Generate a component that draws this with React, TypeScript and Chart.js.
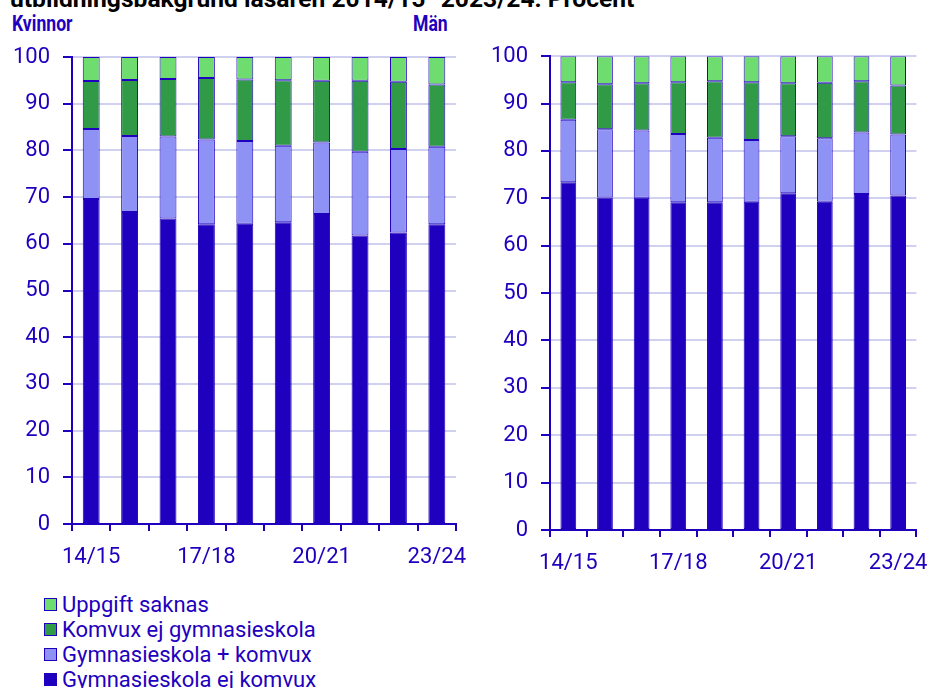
import React, { useEffect, useRef } from "react";
import { Chart, registerables } from "chart.js";

Chart.register(...registerables);

const categories = ["14/15", "15/16", "16/17", "17/18", "18/19", "19/20", "20/21", "21/22", "22/23", "23/24"];
const shownTicks = ["14/15", "17/18", "20/21", "23/24"];

// Kvinnor (women)
const womenGymEjKomvux = [69.6, 66.8, 65.4, 64.2, 64.3, 64.6, 66.4, 61.8, 62.4, 64.2];
const womenGymKomvux = [15.0, 16.3, 17.6, 18.15, 17.7, 16.4, 15.3, 17.9, 17.9, 16.6];
const womenKomvuxEjGym = [10.25, 12.0, 12.3, 13.15, 13.2, 14.0, 13.2, 15.2, 14.4, 13.3];
const womenSaknas = [5.15, 4.9, 4.7, 4.5, 4.8, 5.0, 5.1, 5.1, 5.3, 5.9];

// Män (men)
const menGymEjKomvux = [73.4, 70.2, 70.1, 69.2, 69.2, 69.3, 71.1, 69.3, 70.9, 70.6];
const menGymKomvux = [13.2, 14.4, 14.2, 14.4, 13.6, 13.0, 12.0, 13.4, 13.0, 12.9];
const menKomvuxEjGym = [7.9, 9.5, 10.0, 10.9, 11.9, 12.2, 11.2, 11.7, 10.8, 10.3];
const menSaknas = [5.5, 5.9, 5.7, 5.5, 5.3, 5.5, 5.7, 5.6, 5.3, 6.2];

const seriesLabels = ["Gymnasieskola ej komvux", "Gymnasieskola + komvux", "Komvux ej gymnasieskola", "Uppgift saknas"];
const seriesColors = ["#1e00be", "#8f92f5", "#309a46", "#6edc6e"];
const yTicks = [0, 10, 20, 30, 40, 50, 60, 70, 80, 90, 100];

const BLUE = "#1e00be";
const GRID = "rgb(208,208,240)";
const FONT = "Roboto";
const TICK_SIZE = 22;

function makeConfig(data: number[][], yWidth: number, xHeight: number, padding: any, barPct: number) {
  return {
    type: "bar" as const,
    data: {
      labels: categories,
      datasets: data.map((d, i) => ({
        label: seriesLabels[i],
        data: d,
        backgroundColor: seriesColors[i],
        borderColor: BLUE,
        borderWidth: 1,
        borderSkipped: false,
        categoryPercentage: 1,
        barPercentage: barPct,
      })),
    },
    options: {
      responsive: false,
      animation: false as const,
      layout: { padding },
      plugins: { legend: { display: false }, tooltip: { enabled: false }, title: { display: false } },
      scales: {
        x: {
          stacked: true,
          offset: true,
          grid: {
            offset: true,
            drawOnChartArea: true,
            drawTicks: true,
            tickLength: 7,
            tickColor: BLUE,
            tickWidth: 2,
            lineWidth: 2,
            color: (ctx: any) => (ctx.index === categories.length ? GRID : "rgba(0,0,0,0)"),
          },
          border: { display: true, color: BLUE, width: 2 },
          ticks: {
            autoSkip: false,
            maxRotation: 0,
            padding: 13,
            color: BLUE,
            font: { family: FONT, size: TICK_SIZE },
            callback: function (this: any, v: any, i: number) {
              const l = categories[i];
              return shownTicks.includes(l) ? l : "";
            },
          },
          afterFit: (s: any) => {
            s.height = xHeight;
          },
        },
        y: {
          stacked: true,
          min: 0,
          max: 100,
          afterBuildTicks: (s: any) => {
            s.ticks = yTicks.map((v) => ({ value: v }));
          },
          grid: {
            color: GRID,
            lineWidth: 2,
            tickColor: BLUE,
            tickWidth: 2,
            tickLength: 9,
          },
          border: { display: true, color: BLUE, width: 2 },
          ticks: {
            padding: 13,
            color: BLUE,
            font: { family: FONT, size: TICK_SIZE },
          },
          afterFit: (s: any) => {
            s.width = yWidth;
          },
        },
      },
    },
  };
}

function BarChart(props: { data: number[][]; width: number; height: number; yWidth: number; xHeight: number; padding: any; barPct: number; style: any }) {
  const ref = useRef<HTMLCanvasElement>(null);
  useEffect(() => {
    const c = new Chart(ref.current as HTMLCanvasElement, makeConfig(props.data, props.yWidth, props.xHeight, props.padding, props.barPct) as any);
    return () => c.destroy();
  }, []);
  return (
    <canvas ref={ref} width={props.width} height={props.height} style={{ position: "absolute", width: props.width, height: props.height, ...props.style }} />
  );
}

export default function App() {
  const subtitle: any = {
    position: "absolute",
    top: 13,
    fontFamily: FONT,
    fontWeight: 700,
    fontSize: 22,
    lineHeight: "22px",
    color: BLUE,
    transform: "scaleX(0.8)",
    transformOrigin: "left top",
    whiteSpace: "nowrap",
  };
  const legendOrder = [3, 2, 1, 0];
  return (
    <div style={{ position: "absolute", left: 0, top: 0, width: 941, height: 688, overflow: "hidden", background: "#fff" }}>
      <div
        style={{
          position: "absolute",
          left: 10,
          top: -14,
          fontFamily: FONT,
          fontWeight: 700,
          fontSize: 24.6,
          lineHeight: "25px",
          color: "#000",
          whiteSpace: "nowrap",
        }}
      >
        utbildningsbakgrund läsåren 2014/15–2023/24. Procent
      </div>
      <div style={{ ...subtitle, left: 12 }}>Kvinnor</div>
      <div style={{ ...subtitle, left: 413 }}>Män</div>
      <BarChart
        data={[womenGymEjKomvux, womenGymKomvux, womenKomvuxEjGym, womenSaknas]}
        width={480}
        height={540}
        yWidth={72}
        xHeight={46}
        padding={{ top: 27, right: 18, left: 0, bottom: 0 }}
        barPct={0.44}
        style={{ left: 0, top: 30 }}
      />
      <BarChart
        data={[menGymEjKomvux, menGymKomvux, menKomvuxEjGym, menSaknas]}
        width={461}
        height={540}
        yWidth={70}
        xHeight={40}
        padding={{ top: 23, right: 12, left: 0, bottom: 0 }}
        barPct={0.43}
        style={{ left: 480, top: 30 }}
      />
      {legendOrder.map((si, r) => (
        <div
          key={si}
          style={{
            position: "absolute",
            left: 44,
            top: 592 + r * 25,
            height: 25,
            lineHeight: "25px",
            fontFamily: FONT,
            fontSize: 22,
            color: BLUE,
            whiteSpace: "nowrap",
          }}
        >
          <span
            style={{
              position: "absolute",
              left: 0,
              top: 6,
              width: 11,
              height: 11,
              background: seriesColors[si],
              border: `1px solid ${BLUE}`,
            }}
          />
          <span style={{ position: "absolute", left: 18 }}>{seriesLabels[si]}</span>
        </div>
      ))}
    </div>
  );
}
